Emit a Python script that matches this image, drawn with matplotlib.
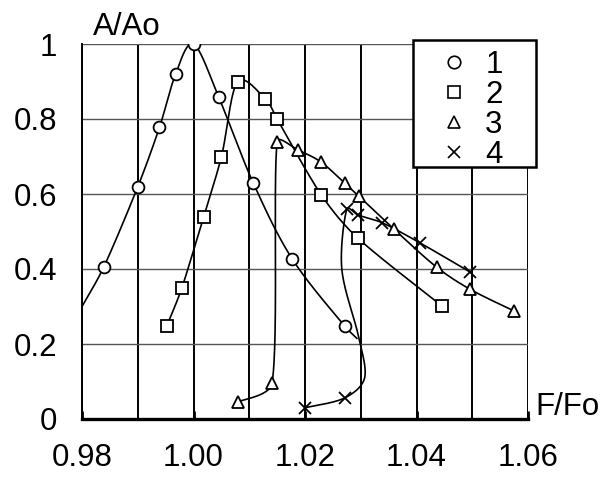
import numpy as np
import matplotlib
matplotlib.use("Agg")
import matplotlib.pyplot as plt
from matplotlib.lines import Line2D
from matplotlib.patches import Rectangle

plt.rcParams['font.family'] = ['Liberation Sans', 'DejaVu Sans']

# ---- data ----
c1_x = [0.9839, 0.9900, 0.9939, 0.9968, 1.0000, 1.0045, 1.0107, 1.0177, 1.0271]
c1_y = [0.405, 0.619, 0.778, 0.920, 1.000, 0.859, 0.630, 0.427, 0.248]
c1_start = (0.9800, 0.300)   # curve runs in from the left edge
c1_end = (1.0293, 0.215)     # curve runs on past the last marker

c2_x = [0.9952, 0.9979, 1.0018, 1.0050, 1.0079, 1.0129, 1.0150, 1.0229, 1.0295, 1.0446]
c2_y = [0.248, 0.349, 0.539, 0.699, 0.899, 0.853, 0.800, 0.598, 0.482, 0.301]

c3_x = [1.0079, 1.0141, 1.0150, 1.0188, 1.0229, 1.0271, 1.0296, 1.0359, 1.0436, 1.0496, 1.0575]
c3_y = [0.045, 0.096, 0.739, 0.717, 0.685, 0.629, 0.595, 0.507, 0.405, 0.346, 0.288]

c4_x = [1.0200, 1.0271, 1.0275, 1.0295, 1.0339, 1.0407, 1.0496]
c4_y = [0.030, 0.056, 0.560, 0.544, 0.523, 0.469, 0.392]
# path of the curve-4 line between the 2nd and 3rd marker (no markers there)
c4_via_x = [1.0307, 1.0296, 1.0266]
c4_via_y = [0.110, 0.220, 0.400]

series_labels = ['1', '2', '3', '4']
x_ticks = [0.98, 1.00, 1.02, 1.04, 1.06]
x_tick_labels = ['0.98', '1.00', '1.02', '1.04', '1.06']
x_minor = [0.99, 1.01, 1.03, 1.05]
y_ticks = [0, 0.2, 0.4, 0.6, 0.8, 1.0]
y_tick_labels = ['0', '0.2', '0.4', '0.6', '0.8', '1']

FS = 22.5
W, H = 602, 479

fig = plt.figure(figsize=(W/100, H/100), dpi=100)
ax = fig.add_axes([82/W, 1-419/H, 446/W, 375/H])
ax.set_xlim(0.98, 1.06)
ax.set_ylim(0, 1.0)

ax.set_xticks(x_ticks)
ax.set_xticklabels(x_tick_labels, fontsize=FS)
ax.set_xticks(x_minor, minor=True)
ax.set_yticks(y_ticks)
ax.set_yticklabels(y_tick_labels, fontsize=FS)
ax.tick_params(axis='y', length=0, pad=18)
ax.tick_params(axis='x', which='major', direction='in', length=6, width=2, pad=17)
ax.tick_params(axis='x', which='minor', length=0)

# grid
ax.grid(True, axis='y', color='#555555', lw=1.0, zorder=0)
ax.grid(True, axis='x', which='both', color='black', lw=1.4, zorder=0)
for s in ['top', 'right']:
    ax.spines[s].set_visible(False)
ax.spines['left'].set_linewidth(1.4)
ax.spines['bottom'].set_linewidth(2.4)
ax.set_axisbelow(True)

fig.canvas.draw()


def smooth(xs, ys, n=50):
    """Catmull-Rom style Bezier through the points (display space),
    with control arms clamped to a third of each segment."""
    pts = ax.transData.transform(np.column_stack([xs, ys]))
    m = len(pts)
    tang = []
    for i in range(m):
        a = pts[i - 1] if i > 0 else pts[i]
        b = pts[i + 1] if i + 1 < m else pts[i]
        tang.append((b - a) / 6.0)

    def clamp(v, L):
        nv = np.hypot(*v)
        return v * (L / nv) if nv > L and nv > 0 else v

    out = []
    for i in range(m - 1):
        p1, p2 = pts[i], pts[i + 1]
        L = np.hypot(*(p2 - p1)) / 3.0
        c1 = p1 + clamp(tang[i], L)
        c2 = p2 - clamp(tang[i + 1], L)
        t = np.linspace(0, 1, n)[:, None]
        seg = ((1 - t) ** 3) * p1 + 3 * ((1 - t) ** 2) * t * c1 + 3 * (1 - t) * t ** 2 * c2 + t ** 3 * p2
        out.append(seg if i == 0 else seg[1:])
    out = np.vstack(out)
    d = ax.transData.inverted().transform(out)
    return d[:, 0], d[:, 1]


lw = 1.2
mk = dict(markerfacecolor='white', markeredgecolor='black', markeredgewidth=1.3, linestyle='none', zorder=4)

# curve 1
lx = [c1_start[0]] + c1_x + [c1_end[0]]
ly = [c1_start[1]] + c1_y + [c1_end[1]]
sx, sy = smooth(lx, ly)
ax.plot(sx, sy, color='black', lw=lw, zorder=3)
ax.plot(c1_x, c1_y, marker='o', markersize=8.5, **mk)

# curve 2
sx, sy = smooth(c2_x, c2_y)
ax.plot(sx, sy, color='black', lw=lw, zorder=3)
ax.plot(c2_x, c2_y, marker='s', markersize=8, **mk)

# curve 3
sx, sy = smooth(c3_x, c3_y)
ax.plot(sx, sy, color='black', lw=lw, zorder=3)
ax.plot(c3_x, c3_y, marker='^', markersize=9, **mk)

# curve 4
lx = c4_x[:2] + c4_via_x + c4_x[2:]
ly = c4_y[:2] + c4_via_y + c4_y[2:]
sx, sy = smooth(lx, ly)
ax.plot(sx, sy, color='black', lw=lw, zorder=3)
ax.plot(c4_x, c4_y, marker='x', markersize=9, markeredgecolor='black',
        markeredgewidth=1.3, linestyle='none', zorder=4)

# legend frame
frame = Rectangle((413/W, 1-167/H), 123/W, 127/H, transform=fig.transFigure,
                  facecolor='white', edgecolor='black', lw=1.8, zorder=9, clip_on=False)
ax.add_patch(frame)

handles = [
    Line2D([], [], marker='o', markersize=9, markerfacecolor='white', markeredgecolor='black', markeredgewidth=1.2, linestyle='none'),
    Line2D([], [], marker='s', markersize=8.5, markerfacecolor='white', markeredgecolor='black', markeredgewidth=1.2, linestyle='none'),
    Line2D([], [], marker='^', markersize=9, markerfacecolor='white', markeredgecolor='black', markeredgewidth=1.2, linestyle='none'),
    Line2D([], [], marker='x', markersize=9, markeredgecolor='black', markeredgewidth=1.2, linestyle='none'),
]
em = FS * 100 / 72
leg = ax.legend(handles, series_labels, loc='upper left',
                bbox_to_anchor=((454 - em / 2) / W, 1 - 50/H), bbox_transform=fig.transFigure,
                fontsize=FS, frameon=False, handlelength=1.0,
                handletextpad=0.5, labelspacing=0.0, borderpad=0,
                borderaxespad=0)
leg.set_zorder(10)

fig.text(93/W, 1-35/H, 'A/Ao', fontsize=FS, ha='left', va='baseline')
fig.text(535/W, 1-415/H, 'F/Fo', fontsize=FS, ha='left', va='baseline')

fig.savefig('out.png', dpi=100)
